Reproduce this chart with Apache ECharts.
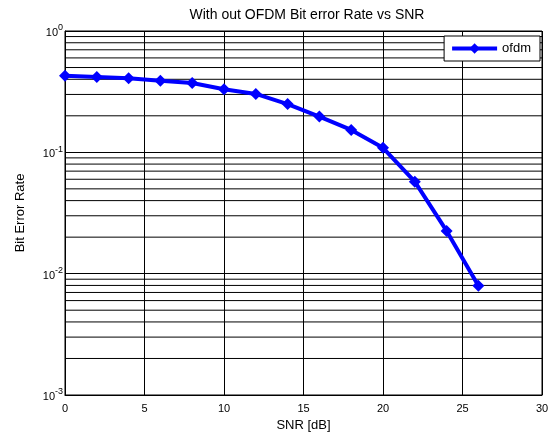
<!DOCTYPE html>
<html><head><meta charset="utf-8">
<script src="https://cdn.jsdelivr.net/npm/echarts@6/dist/echarts.min.js"></script>
<style>html,body{margin:0;padding:0;background:#fff}#c{width:556px;height:437px}</style>
</head><body><div id="c"></div>
<script>
const snr = [0, 2, 4, 6, 8, 10, 12, 14, 16, 18, 20, 22, 24, 26];
const ber = [0.428, 0.418, 0.408, 0.389, 0.373, 0.331, 0.303, 0.250, 0.197, 0.153, 0.109, 0.0573, 0.0225, 0.00796];
const seriesName = 'ofdm';
const xTicks = [0, 5, 10, 15, 20, 25, 30];
const yDecades = [0.001, 0.01, 0.1, 1];
const minorMultipliers = [2, 3, 4, 5, 6, 7, 8, 9];

const minorValues = [];
for (let i = 0; i < yDecades.length - 1; i++) {
  for (const m of minorMultipliers) minorValues.push(+(yDecades[i] * m).toPrecision(3));
}
const font = 'Liberation Sans, Arial, sans-serif';
const minorSeries = minorValues.map(v => ({
  type: 'line', silent: true, symbol: 'none', z: 1,
  data: [[0, v], [30, v]],
  lineStyle: { color: '#000', width: 1 },
  tooltip: { show: false }
}));
const chart = echarts.init(document.getElementById('c'), null, { renderer: 'canvas' });
chart.setOption({
  animation: false,
  backgroundColor: '#fff',
  title: {
    text: 'With out OFDM Bit error Rate vs SNR',
    left: 302, top: 3, textAlign: 'center',
    textStyle: { fontFamily: font, fontSize: 14, fontWeight: 'normal', color: '#000' }
  },
  legend: {
    right: 16, top: 36,
    data: [seriesName],
    backgroundColor: '#fff',
    borderColor: '#000', borderWidth: 1, borderRadius: 0,
    padding: [6, 9, 6, 6],
    itemWidth: 45, itemHeight: 13, itemGap: 5,
    lineStyle: { width: 4, color: '#0000ff' },
    textStyle: { fontFamily: font, fontSize: 13, color: '#000' },
    z: 20
  },
  grid: { left: 65, right: 14, top: 31, bottom: 42, show: true, borderColor: '#000', borderWidth: 1, backgroundColor: 'transparent' },
  xAxis: {
    type: 'value', min: 0, max: 30, interval: 5,
    name: 'SNR [dB]', nameLocation: 'middle', nameGap: 24,
    nameTextStyle: { fontFamily: font, fontSize: 13, color: '#000' },
    axisLine: { show: true, lineStyle: { color: '#000' } },
    axisTick: { show: false },
    axisLabel: { fontFamily: font, fontSize: 11, color: '#000', margin: 8,
      formatter: v => xTicks.includes(v) ? String(v) : '' },
    splitLine: { show: true, lineStyle: { color: '#000', width: 1 } }
  },
  yAxis: {
    type: 'log', logBase: 10, min: 0.001, max: 1,
    name: 'Bit Error Rate', nameLocation: 'middle', nameGap: 38, nameRotate: 90,
    nameTextStyle: { fontFamily: font, fontSize: 13, color: '#000' },
    axisLine: { show: true, lineStyle: { color: '#000' } },
    axisTick: { show: false },
    axisLabel: {
      margin: 2,
      formatter: v => {
        const e = Math.round(Math.log10(v));
        return '{b|10}{s|' + e + '}';
      },
      rich: {
        b: { fontFamily: font, fontSize: 11, color: '#000', padding: [4, 0, 0, 0] },
        s: { fontFamily: font, fontSize: 9, color: '#000', verticalAlign: 'top', padding: [0, 0, 6, 0] }
      }
    },
    splitLine: { show: true, lineStyle: { color: '#000', width: 1 } }
  },
  series: minorSeries.concat([{
    name: seriesName, type: 'line',
    data: snr.map((x, i) => [x, ber[i]]),
    color: '#0000ff',
    lineStyle: { color: '#0000ff', width: 4 },
    itemStyle: { color: '#0000ff' },
    symbol: 'diamond', symbolSize: 12, showAllSymbol: true,
    z: 5
  }])
});
</script></body></html>
